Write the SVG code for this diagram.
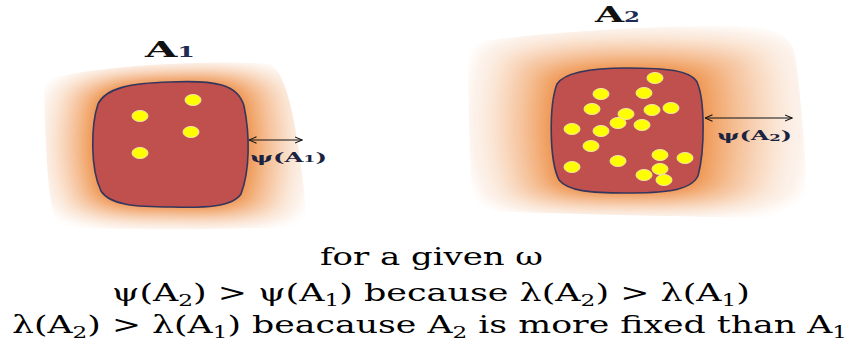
<svg xmlns="http://www.w3.org/2000/svg" width="852" height="344" viewBox="0 0 852 344">
<style>
.blob{fill:#c0504d;stroke:#33365e;stroke-width:1.6}
.dot{fill:#ffff00;stroke:#f3e4a8;stroke-width:1}
.title{font-family:"DejaVu Serif",serif;font-weight:bold;font-size:23px;fill:#111}
.lab{font-family:"DejaVu Serif",serif;font-weight:bold;font-size:13px;fill:#1c2340}
.cap{font-family:"DejaVu Serif",serif;font-size:24px;fill:#000}
.arr{stroke:#111;stroke-width:1.2;fill:none}
</style>
<defs>
<filter id="soft" x="-20%" y="-20%" width="140%" height="140%"><feGaussianBlur stdDeviation="4"/></filter>
<marker id="ah" viewBox="0 0 8 8" refX="7.5" refY="4" markerWidth="8" markerHeight="8" markerUnits="userSpaceOnUse" orient="auto-start-reverse"><path d="M0,0.8 L7.5,4 L0,7.2" fill="none" stroke="#111" stroke-width="1.1"/></marker>
<path id="s1" d="M170 82 C 215 80, 238 84, 244 106 C 250 135, 250 170, 241 194 C 232 207, 205 208, 172 207 C 135 207, 110 205, 101 191 C 90 168, 91 125, 98 104 C 106 88, 130 83, 170 82 Z"/>
<path id="s2" d="M627 68 C 665 68, 690 70, 697 82 C 705 100, 705 150, 698 176 C 690 192, 660 193, 625 193 C 590 193, 568 191, 559 180 C 549 160, 549 105, 557 84 C 565 72, 595 68, 627 68 Z"/>
<clipPath id="c1"><path d="M52 78 C 110 64, 220 60, 268 64 C 290 68, 300 150, 307 215 C 308 226, 290 228, 260 228 C 190 230, 120 230, 62 227 C 48 224, 46 150, 44 96 C 44 85, 46 80, 52 78 Z"/></clipPath>
<clipPath id="c2"><path d="M476 42 C 560 30, 690 24, 752 27 C 785 30, 792 40, 796 60 C 802 110, 806 160, 807 205 C 807 216, 800 218, 780 218 C 690 217, 560 214, 485 211 C 474 210, 472 200, 471 180 C 469 130, 468 90, 468 58 C 468 48, 470 44, 476 42 Z"/></clipPath>
</defs>
<rect width="852" height="344" fill="#ffffff"/>

<g id="node-A1">
<g clip-path="url(#c1)">
<g filter="url(#soft)">
<use href="#s1" fill="#fdf4ee" transform="translate(174.5,145.5) scale(1.78,1.36) translate(-170.5,-144.5)"/>
<use href="#s1" fill="#fcf0e7" transform="translate(174.1,145.4) scale(1.702,1.324) translate(-170.5,-144.5)"/>
<use href="#s1" fill="#fbeadd" transform="translate(173.7,145.3) scale(1.624,1.288) translate(-170.5,-144.5)"/>
<use href="#s1" fill="#fae2cf" transform="translate(173.3,145.2) scale(1.546,1.252) translate(-170.5,-144.5)"/>
<use href="#s1" fill="#f9d9c0" transform="translate(172.9,145.1) scale(1.468,1.216) translate(-170.5,-144.5)"/>
<use href="#s1" fill="#f7ceaf" transform="translate(172.5,145) scale(1.39,1.18) translate(-170.5,-144.5)"/>
<use href="#s1" fill="#f6c49d" transform="translate(172.1,144.9) scale(1.312,1.144) translate(-170.5,-144.5)"/>
<use href="#s1" fill="#f4b889" transform="translate(171.7,144.8) scale(1.234,1.108) translate(-170.5,-144.5)"/>
<use href="#s1" fill="#f2ac74" transform="translate(171.3,144.7) scale(1.156,1.072) translate(-170.5,-144.5)"/>
<use href="#s1" fill="#f09f5f" transform="translate(170.9,144.6) scale(1.078,1.036) translate(-170.5,-144.5)"/>
<use href="#s1" fill="#ee9148"/>
</g>
</g>
<use href="#s1" class="blob"/>
<ellipse class="dot" cx="193" cy="100" rx="8" ry="5.5"/>
<ellipse class="dot" cx="140" cy="116" rx="8" ry="5.5"/>
<ellipse class="dot" cx="191" cy="132" rx="8" ry="5.5"/>
<ellipse class="dot" cx="140" cy="153" rx="8" ry="5.5"/>
<text class="title" x="145" y="57" textLength="50" lengthAdjust="spacingAndGlyphs">A<tspan font-size="14" fill="#1f2a55">1</tspan></text>
<text class="lab" x="250" y="162" textLength="77" lengthAdjust="spacingAndGlyphs">ψ(A<tspan font-size="9">1</tspan>)</text>
</g>

<g id="node-A2">
<g clip-path="url(#c2)">
<g filter="url(#soft)">
<use href="#s2" fill="#fdf4ee" transform="translate(637.5,122) scale(2.28,1.56) translate(-627,-130.5)"/>
<use href="#s2" fill="#fcf0e7" transform="translate(636.45,122.85) scale(2.152,1.504) translate(-627,-130.5)"/>
<use href="#s2" fill="#fbeadd" transform="translate(635.4,123.7) scale(2.024,1.448) translate(-627,-130.5)"/>
<use href="#s2" fill="#fae2cf" transform="translate(634.35,124.55) scale(1.896,1.392) translate(-627,-130.5)"/>
<use href="#s2" fill="#f9d9c0" transform="translate(633.3,125.4) scale(1.768,1.336) translate(-627,-130.5)"/>
<use href="#s2" fill="#f7ceaf" transform="translate(632.25,126.25) scale(1.64,1.28) translate(-627,-130.5)"/>
<use href="#s2" fill="#f6c49d" transform="translate(631.2,127.1) scale(1.512,1.224) translate(-627,-130.5)"/>
<use href="#s2" fill="#f4b889" transform="translate(630.15,127.95) scale(1.384,1.168) translate(-627,-130.5)"/>
<use href="#s2" fill="#f2ac74" transform="translate(629.1,128.8) scale(1.256,1.112) translate(-627,-130.5)"/>
<use href="#s2" fill="#f09f5f" transform="translate(628.05,129.65) scale(1.128,1.056) translate(-627,-130.5)"/>
<use href="#s2" fill="#ee9148"/>
</g>
</g>
<use href="#s2" class="blob"/>
<ellipse class="dot" cx="655" cy="78" rx="8" ry="5.5"/>
<ellipse class="dot" cx="601" cy="94" rx="8" ry="5.5"/>
<ellipse class="dot" cx="644" cy="93" rx="8" ry="5.5"/>
<ellipse class="dot" cx="592" cy="109" rx="8" ry="5.5"/>
<ellipse class="dot" cx="626" cy="114" rx="8" ry="5.5"/>
<ellipse class="dot" cx="652" cy="110" rx="8" ry="5.5"/>
<ellipse class="dot" cx="671" cy="108" rx="8" ry="5.5"/>
<ellipse class="dot" cx="572" cy="129" rx="8" ry="5.5"/>
<ellipse class="dot" cx="601" cy="131" rx="8" ry="5.5"/>
<ellipse class="dot" cx="618" cy="123" rx="8" ry="5.5"/>
<ellipse class="dot" cx="642" cy="125" rx="8" ry="5.5"/>
<ellipse class="dot" cx="591" cy="146" rx="8" ry="5.5"/>
<ellipse class="dot" cx="660" cy="155" rx="8" ry="5.5"/>
<ellipse class="dot" cx="685" cy="158" rx="8" ry="5.5"/>
<ellipse class="dot" cx="618" cy="161" rx="8" ry="5.5"/>
<ellipse class="dot" cx="572" cy="167" rx="8" ry="5.5"/>
<ellipse class="dot" cx="660" cy="169" rx="8" ry="5.5"/>
<ellipse class="dot" cx="644" cy="175" rx="8" ry="5.5"/>
<ellipse class="dot" cx="664" cy="180" rx="8" ry="5.5"/>
<text class="title" x="595" y="22" textLength="45" lengthAdjust="spacingAndGlyphs">A<tspan font-size="14" fill="#1f2a55">2</tspan></text>
<text class="lab" x="717" y="140" textLength="75" lengthAdjust="spacingAndGlyphs">ψ(A<tspan font-size="9" dy="1">2</tspan><tspan dy="-1">)</tspan></text>
</g>

<g id="connectors">
<line class="arr" x1="249" y1="140" x2="302" y2="140" marker-start="url(#ah)" marker-end="url(#ah)"/>
<line class="arr" x1="705" y1="118" x2="792" y2="118" marker-start="url(#ah)" marker-end="url(#ah)"/>
</g>

<g id="caption">
<text class="cap" x="320" y="265" textLength="223" lengthAdjust="spacingAndGlyphs">for a given ω</text>
<text class="cap" x="112" y="301" textLength="638" lengthAdjust="spacingAndGlyphs">ψ(A<tspan font-size="16" dy="5">2</tspan><tspan dy="-5">) &gt; ψ(A</tspan><tspan font-size="16" dy="5">1</tspan><tspan dy="-5">) because λ(A</tspan><tspan font-size="16" dy="5">2</tspan><tspan dy="-5">) &gt; λ(A</tspan><tspan font-size="16" dy="5">1</tspan><tspan dy="-5">)</tspan></text>
<text class="cap" x="12" y="333" textLength="835" lengthAdjust="spacingAndGlyphs">λ(A<tspan font-size="16" dy="5">2</tspan><tspan dy="-5">) &gt; λ(A</tspan><tspan font-size="16" dy="5">1</tspan><tspan dy="-5">) beacause A</tspan><tspan font-size="16" dy="5">2</tspan><tspan dy="-5"> is more fixed than A</tspan><tspan font-size="16" dy="5">1</tspan></text>
</g>
</svg>
